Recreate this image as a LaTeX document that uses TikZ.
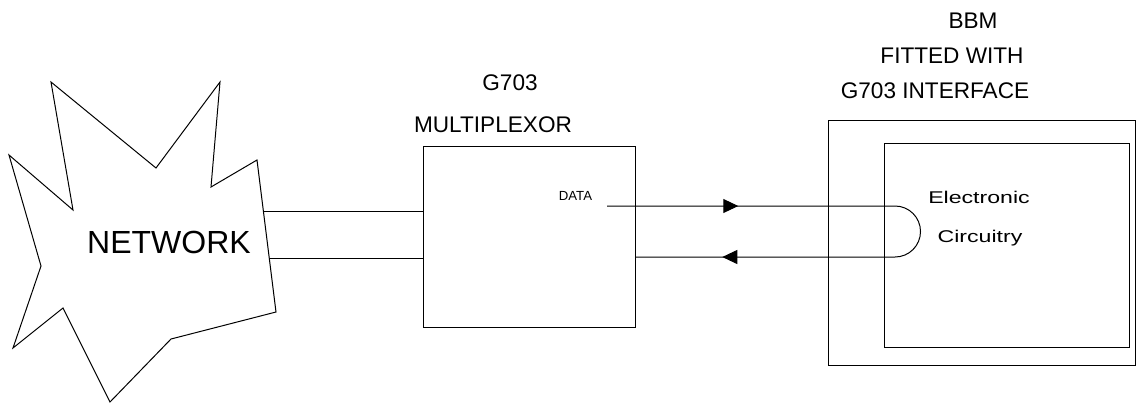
\documentclass[tikz,border=0pt]{standalone}
\usepackage{fontspec}
\setmainfont{Liberation Sans}
\usetikzlibrary{arrows.meta, positioning, calc, decorations.markings}
\newcommand{\widetext}[1]{\scalebox{1.36}[1]{#1}}

\begin{document}
\begin{tikzpicture}[
    x=0.5pt, y=-0.5pt,
    box/.style={
        rectangle, draw=black, line width=0.5pt, inner sep=0pt,
        outer sep=0pt
    },
    label/.style={inner sep=0pt, font=\fontsize{11.3}{13}\selectfont},
    small/.style={inner sep=0pt, font=\fontsize{6.6}{8}\selectfont},
    circ/.style={inner sep=0pt, font=\fontsize{8.5}{10}\selectfont},
    link/.style={line width=0.5pt},
    flow/.style={
        link, postaction={decorate},
        decoration={markings,
            mark=at position 0.209 with {\arrow{Triangle[length=7.5pt, width=7pt]}},
            mark=at position 0.861 with {\arrow{Triangle[length=7.5pt, width=7pt]}}}
    }
]
\useasboundingbox (0,0) rectangle (1136,403);

% ===================================================================
% NETWORK
% ===================================================================
\draw[link] (51,82) -- (156,168) -- (220,82) -- (211,187) -- (257,160)
    -- (276,312) -- (171,339) -- (110,402) -- (63,308) -- (13,348)
    -- (41,266) -- (9,155) -- (73,210) -- cycle;
\node[inner sep=0pt, font=\fontsize{16}{18}\selectfont] (net) at (169,242)
    {NETWORK};
\coordinate (nettop) at (263,211);
\coordinate (netbot) at (269,258);

% ===================================================================
% MULTIPLEXOR
% ===================================================================
\node[box, minimum width=106pt, minimum height=90.5pt] (mux) at (529,236.5) {};
\node[label] (muxname) at (510,83) {G703};
\node[label] (muxtype) at (493,125) {MULTIPLEXOR};
\node[small] (data) at (575.5,196) {DATA};
\coordinate (dataout) at (607,206);

% ===================================================================
% BBM
% ===================================================================
\node[box, minimum width=153.5pt, minimum height=122.5pt] (bbm) at (981.5,242.5) {};
\node[box, minimum width=122.5pt, minimum height=102pt] (circuit) at (1006.5,245) {};
\node[label] (bbmname) at (973,21) {BBM};
\node[label] (bbmfit) at (952,56) {FITTED WITH};
\node[label] (bbmif) at (935,91) {G703 INTERFACE};
\node[circ] (elec) at (979,197) {\widetext{Electronic}};
\node[circ] (circy) at (980,238) {\widetext{Circuitry}};
\coordinate (loopend) at (895,206);

% ===================================================================
% LINKS
% ===================================================================
\draw[link] (nettop) -- (nettop -| mux.west);
\draw[link] (netbot) -- (netbot -| mux.west);

% data loop through the circuitry
\draw[flow] (dataout) -- (loopend)
    arc[start angle=90, end angle=-90, radius=12.75pt]
    -- (mux.east |- 0,257);

\end{tikzpicture}
\end{document}
